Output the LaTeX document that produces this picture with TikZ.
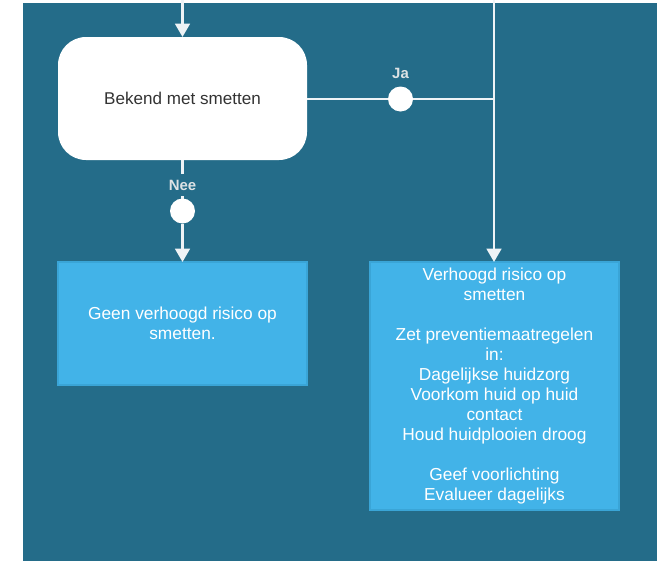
\documentclass[tikz,border=0pt]{standalone}
\usepackage{fontspec}
\setmainfont{Liberation Sans}
\usetikzlibrary{arrows.meta}
\definecolor{bgblue}{RGB}{36,108,137}
\definecolor{boxblue}{RGB}{66,179,232}
\definecolor{boxedge}{RGB}{58,165,215}
\definecolor{linecol}{RGB}{238,243,246}
\definecolor{darktext}{RGB}{51,51,51}
\tikzset{
  decision/.style={draw=none, fill=white, rounded corners=21pt, minimum width=186.75pt, minimum height=92.25pt, inner sep=0pt, outer sep=0pt, text=darktext, font=\fontsize{12.8}{15}\selectfont},
  infobox/.style={draw=boxedge, line width=0.8pt, fill=boxblue, minimum width=186.75pt, inner sep=0pt, outer sep=0pt, text=white, align=center, font=\fontsize{13}{15}\selectfont},
  dotnode/.style={circle, fill=white, draw=none, minimum size=18.75pt, inner sep=0pt, outer sep=0pt},
  lbl/.style={text=linecol!85!gray, font=\bfseries\fontsize{11.2}{13}\selectfont, inner sep=0pt},
  conn/.style={draw=linecol, line width=1.9pt},
  arr/.style={conn, -{Triangle[width=11pt,length=10pt]}}
}
\begin{document}
\begin{tikzpicture}[x=0.75pt,y=-0.75pt]
\useasboundingbox (0,0) rectangle (664,561);
\fill[bgblue] (23,3) rectangle (657,561);
\coordinate (top1) at (182.5,0);
\coordinate (top2) at (494,0);
\coordinate (jn) at (494,99);
\node[decision] (dec) at (182.5,98.5) {Bekend met smetten};
\node[dotnode] (ja) at (400.5,99) {};
\node[lbl] (jalbl) at (400.5,73) {Ja};
\node[dotnode] (nee) at (182.5,211) {};
\node[infobox, minimum height=92.25pt] (b1) at (182.5,323.5) {Geen verhoogd risico op\\smetten.};
\node[infobox, minimum height=186pt] (b2) at (494.5,386) {Verhoogd risico op\\smetten\\[15pt]Zet preventiemaatregelen\\in:\\Dagelijkse huidzorg\\Voorkom huid op huid\\contact\\Houd huidplooien droog\\[15pt]Geef voorlichting\\Evalueer dagelijks};
\draw[arr] (top1) -- (dec.north);
\draw[conn] (dec.east |- ja) -- (ja) -- (jn);
\draw[arr] (top2) -- (top2 |- b2.north);
\draw[conn] (dec.south) -- (nee);
\node[lbl, fill=bgblue, inner xsep=3pt, inner ysep=4pt] (neelbl) at (182.5,185) {Nee};
\draw[arr] (nee) -- (b1.north);
\end{tikzpicture}
\end{document}
